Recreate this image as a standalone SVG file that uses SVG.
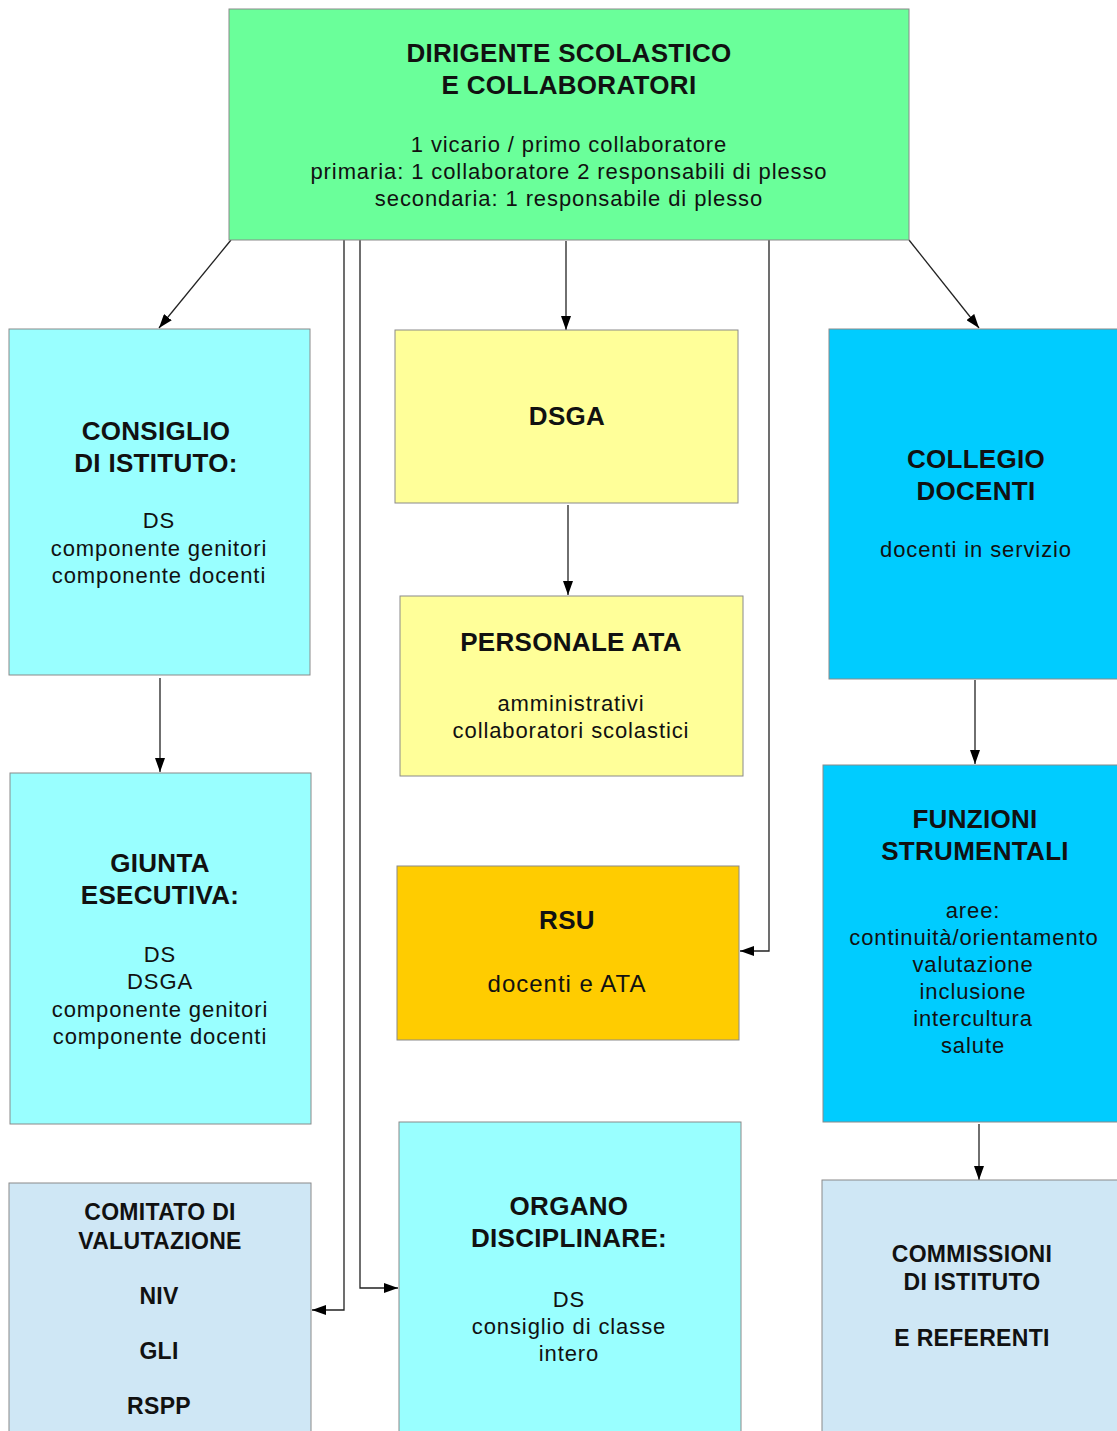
<svg xmlns="http://www.w3.org/2000/svg" width="1117" height="1431" viewBox="0 0 1117 1431">
<style>
.box{stroke:#8a8a8a;stroke-width:1}
text{font-family:"Liberation Sans",Arial,sans-serif;fill:#111;text-anchor:middle}
.t{font-weight:bold;font-size:26px;letter-spacing:0.3px}
.s{font-weight:bold;font-size:23px;letter-spacing:0.3px}
.b{font-size:22px;letter-spacing:0.9px}
.c{stroke:#222;stroke-width:1.3;fill:none}
</style>
<defs>
<marker id="ah" markerWidth="14" markerHeight="10" refX="14" refY="5" orient="auto" markerUnits="userSpaceOnUse" viewBox="0 0 14 10">
<path d="M0,0 L14,5 L0,10 Z" fill="#000"/>
</marker>
</defs>
<rect width="1117" height="1431" fill="#fff"/>
<g id="connectors">
<line class="c" x1="231" y1="240" x2="159" y2="328" marker-end="url(#ah)"/>
<line class="c" x1="909" y1="240" x2="979" y2="328" marker-end="url(#ah)"/>
<line class="c" x1="566" y1="241" x2="566" y2="330" marker-end="url(#ah)"/>
<polyline class="c" points="344,240 344,1310 312,1310" marker-end="url(#ah)"/>
<polyline class="c" points="360,240 360,1288 398,1288" marker-end="url(#ah)"/>
<polyline class="c" points="769,240 769,951 740,951" marker-end="url(#ah)"/>
<line class="c" x1="568" y1="505" x2="568" y2="595" marker-end="url(#ah)"/>
<line class="c" x1="160" y1="678" x2="160" y2="772" marker-end="url(#ah)"/>
<line class="c" x1="975" y1="680" x2="975" y2="764" marker-end="url(#ah)"/>
<line class="c" x1="979" y1="1124" x2="979" y2="1180" marker-end="url(#ah)"/>
</g>
<g id="dirigente">
<rect class="box" x="229" y="9" width="680" height="231" fill="#6aff9a"/>
<text class="t" x="569" y="62">DIRIGENTE SCOLASTICO</text>
<text class="t" x="569" y="94">E COLLABORATORI</text>
<text class="b" x="569" y="152">1 vicario / primo collaboratore</text>
<text class="b" x="569" y="179">primaria: 1 collaboratore 2 responsabili di plesso</text>
<text class="b" x="569" y="206">secondaria: 1 responsabile di plesso</text>
</g>
<g id="consiglio">
<rect class="box" x="9" y="329" width="301" height="346" fill="#99ffff"/>
<text class="t" x="156" y="440">CONSIGLIO</text>
<text class="t" x="156" y="472">DI ISTITUTO:</text>
<text class="b" x="159" y="528">DS</text>
<text class="b" x="159" y="556">componente genitori</text>
<text class="b" x="159" y="583">componente docenti</text>
</g>
<g id="dsga">
<rect class="box" x="395" y="330" width="343" height="173" fill="#ffff99"/>
<text class="t" x="567" y="425">DSGA</text>
</g>
<g id="collegio">
<rect class="box" x="829" y="329" width="300" height="350" fill="#00ccff"/>
<text class="t" x="976" y="468">COLLEGIO</text>
<text class="t" x="976" y="500">DOCENTI</text>
<text class="b" x="976" y="557">docenti in servizio</text>
</g>
<g id="personale-ata">
<rect class="box" x="400" y="596" width="343" height="180" fill="#ffff99"/>
<text class="t" x="571" y="651">PERSONALE ATA</text>
<text class="b" x="571" y="711">amministrativi</text>
<text class="b" x="571" y="738">collaboratori scolastici</text>
</g>
<g id="giunta">
<rect class="box" x="10" y="773" width="301" height="351" fill="#99ffff"/>
<text class="t" x="160" y="872">GIUNTA</text>
<text class="t" x="160" y="904">ESECUTIVA:</text>
<text class="b" x="160" y="962">DS</text>
<text class="b" x="160" y="989">DSGA</text>
<text class="b" x="160" y="1017">componente genitori</text>
<text class="b" x="160" y="1044">componente docenti</text>
</g>
<g id="rsu">
<rect class="box" x="397" y="866" width="342" height="174" fill="#ffcc00"/>
<text class="t" x="567" y="929">RSU</text>
<text class="b" x="567" y="992" style="font-size:24px;letter-spacing:1px">docenti e ATA</text>
</g>
<g id="funzioni">
<rect class="box" x="823" y="765" width="306" height="357" fill="#00ccff"/>
<text class="t" x="975" y="828">FUNZIONI</text>
<text class="t" x="975" y="860">STRUMENTALI</text>
<text class="b" x="973" y="918">aree:</text>
<text class="b" x="974" y="945">continuità/orientamento</text>
<text class="b" x="973" y="972">valutazione</text>
<text class="b" x="973" y="999">inclusione</text>
<text class="b" x="973" y="1026">intercultura</text>
<text class="b" x="973" y="1053">salute</text>
</g>
<g id="comitato">
<rect class="box" x="9" y="1183" width="302" height="260" fill="#cfe7f5"/>
<text class="s" x="160" y="1220">COMITATO DI</text>
<text class="s" x="160" y="1249">VALUTAZIONE</text>
<text class="s" x="159" y="1304">NIV</text>
<text class="s" x="159" y="1359">GLI</text>
<text class="s" x="159" y="1414">RSPP</text>
</g>
<g id="organo">
<rect class="box" x="399" y="1122" width="342" height="320" fill="#99ffff"/>
<text class="t" x="569" y="1215">ORGANO</text>
<text class="t" x="569" y="1247">DISCIPLINARE:</text>
<text class="b" x="569" y="1307">DS</text>
<text class="b" x="569" y="1334">consiglio di classe</text>
<text class="b" x="569" y="1361">intero</text>
</g>
<g id="commissioni">
<rect class="box" x="822" y="1180" width="307" height="262" fill="#cfe7f5"/>
<text class="s" x="972" y="1262">COMMISSIONI</text>
<text class="s" x="972" y="1290">DI ISTITUTO</text>
<text class="s" x="972" y="1346">E REFERENTI</text>
</g>
</svg>
